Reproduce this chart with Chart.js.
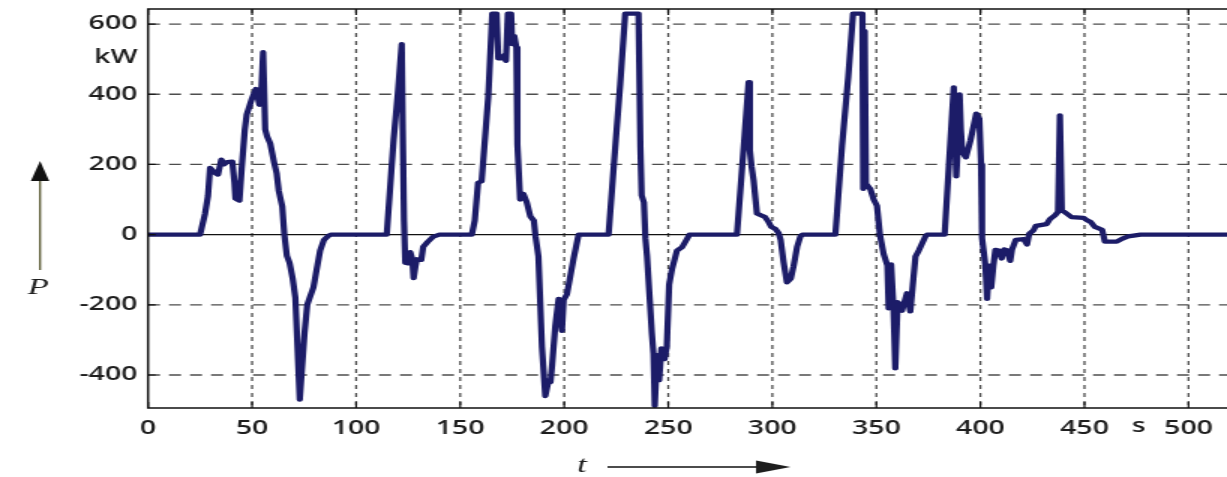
<!DOCTYPE html>
<html>
<head>
<meta charset="utf-8">
<script src="https://cdn.jsdelivr.net/npm/chart.js@4/dist/chart.umd.min.js"></script>
<style>
  html, body { margin: 0; padding: 0; background: #ffffff; overflow: hidden; }
  #wrap { width: 1227px; height: 477px; overflow: hidden; }
  /* the plot is drawn on a narrower canvas and widened 1.5x horizontally */
  #c { display: block; transform: scaleX(1.5); transform-origin: 0 0; }
</style>
</head>
<body>
<div id="wrap"><canvas id="c" width="818" height="477" style="width:818px;height:477px"></canvas></div>
<script>
// Traction power of each drive/brake run, pairs of [t in s, P in kW]
const run1 = [[0,0],[25,0],[27.4,60],[28.8,110],[29.8,190],[31,183],[32.2,176],[33.6,171],[35.2,214],[36.5,200],[38,207],[40.5,208],[41.5,150],[42,103],[43.9,97],[45,188],[46.5,300],[47.4,342],[49.7,384],[51.8,415],[52.8,390],[53.5,370],[54.3,392],[55.3,520],[56.3,300],[57.2,280],[58.7,260],[60.6,205],[61.8,175],[62.8,125],[64.5,80],[65.5,0],[66.7,-60],[68,-80],[69.5,-125],[70.8,-180],[72.9,-470],[75.2,-280],[76.5,-200],[77.9,-176],[79.5,-150],[81,-100],[82.7,-45],[84.5,-15],[86.7,-3],[88,0]];
const run2 = [[114.7,0],[118,270],[120,400],[121.9,543],[122.4,300],[123,40],[123.6,-80],[124.8,-82],[126,-50],[127,-70],[127.6,-124],[128.5,-90],[129.2,-70],[131.3,-72],[132.2,-35],[134.5,-20],[137,-6],[140,0]];
const run3 = [[155.6,0],[157,40],[158.6,148],[160.3,152],[163.5,393],[165.4,630],[167.5,630],[168.3,502],[170.5,502],[171.3,512],[172,495],[172.9,630],[174.5,630],[175,543],[176,566],[177,533],[177.5,257],[178.8,100],[180.4,116],[182,92],[183.7,52],[185.4,40],[186.2,-5],[187.6,-62],[189.3,-320],[190.9,-460],[192.5,-415],[193.4,-420],[194.2,-370],[195.7,-260],[197.3,-183],[198.9,-274],[199.7,-186],[201.3,-170],[204.5,-68],[206.9,0]];
const run4 = [[221.3,0],[224,210],[226.9,429],[229.3,630],[235.7,630],[236.6,250],[237.2,112],[238.3,92],[239,-10],[239.8,-62],[242.1,-280],[242.9,-340],[243.5,-488],[244.6,-343],[245.6,-415],[246.7,-324],[248.2,-355],[249.3,-318],[250.4,-143],[251.8,-98],[254.2,-45],[256.6,-36],[258.2,-20],[260.2,0]];
const run5 = [[283,0],[286,230],[288.6,435],[289.2,240],[290,195],[291,155],[292.6,60],[294.5,55],[296.5,50],[298,38],[299.5,22],[301.5,16],[303,5],[304,-15],[305.4,-78],[307,-136],[308.9,-125],[310.2,-90],[311.9,-35],[313.5,-5],[314.5,0]];
const run6 = [[330.3,0],[333.5,253],[336.5,450],[338.8,630],[343.3,630],[343.7,130],[344.4,580],[345,145],[347.1,130],[348.7,100],[350.3,82],[351.7,0],[353.5,-55],[355.3,-88],[355.9,-210],[357.1,-85],[358.2,-205],[359.1,-381],[360.2,-192],[362.3,-217],[364.7,-167],[366.3,-219],[368.8,-62],[370.4,-45],[373.6,-5],[374.4,0]];
const run7 = [[382.8,0],[385.5,260],[387.2,420],[388.4,166],[389.2,260],[390,400],[390.6,300],[391.3,236],[393,220],[395.2,268],[398,345],[399.5,330],[400.3,200],[400.8,-10],[402.4,-88],[403.2,-183],[404.2,-88],[405.2,-150],[406.2,-90],[407.2,-43],[408.8,-45],[410.2,-68],[411.4,-42],[413,-45],[414.3,-75],[415.2,-42],[417,-15],[420.8,-13],[422.4,-28],[423.4,2],[425.5,12],[426.6,25],[431.8,30],[433.4,44],[435.8,55],[437.3,65],[438.2,340],[439.1,70],[441.5,60],[443.8,50],[449.5,48],[451.5,40],[453,36],[455,22],[458.5,14],[459.8,-20],[465.5,-20],[468,-12],[471,-5],[477,0],[519,0]];

// Axis ticks
const timeTicks = [0, 50, 100, 150, 200, 250, 300, 350, 400, 450, 500];
const powerTicks = [-400, -200, 0, 200, 400, 600];
const timeRange = [0, 518.5];
const powerRange = [-494, 643];

const trace = [run1, run2, run3, run4, run5, run6, run7].flat().map(([t, p]) => ({ x: t, y: p }));

const ink = '#1e1e1e';
const tickFont = { family: '"Open Sans", "DejaVu Sans", sans-serif', size: 19, weight: '600' };

const framePlugin = {
  id: 'frame',
  beforeDatasetsDraw(chart) {
    const { ctx, chartArea: a, scales: { x, y } } = chart;
    ctx.save();
    ctx.strokeStyle = '#4d4d4d';
    ctx.lineWidth = 1.3;
    // vertical grid: short dashes
    ctx.setLineDash([4, 4]);
    for (const t of x.ticks) {
      if (t.value === 0) continue;
      const px = x.getPixelForValue(t.value);
      ctx.beginPath(); ctx.moveTo(px, a.top); ctx.lineTo(px, a.bottom); ctx.stroke();
    }
    // horizontal grid: long dashes
    ctx.setLineDash([8, 6]);
    for (const t of y.ticks) {
      if (t.value === 0) continue;
      const py = y.getPixelForValue(t.value);
      ctx.beginPath(); ctx.moveTo(a.left, py); ctx.lineTo(a.right, py); ctx.stroke();
    }
    // zero line
    ctx.setLineDash([]);
    ctx.strokeStyle = '#111111';
    ctx.lineWidth = 1.4;
    const y0 = y.getPixelForValue(0);
    ctx.beginPath(); ctx.moveTo(a.left, y0); ctx.lineTo(a.right, y0); ctx.stroke();
    ctx.restore();
  },
  afterDraw(chart) {
    const { ctx, chartArea: a, scales: { x, y } } = chart;
    ctx.save();
    // frame: top, left, bottom
    ctx.strokeStyle = '#111111';
    ctx.lineWidth = 1.5;
    ctx.beginPath();
    ctx.moveTo(a.right + 2, a.top); ctx.lineTo(a.left, a.top);
    ctx.lineTo(a.left, a.bottom); ctx.lineTo(a.right + 2, a.bottom);
    ctx.stroke();
    // inward tick marks
    ctx.lineWidth = 1.2;
    ctx.beginPath();
    for (const t of x.ticks) {
      const px = x.getPixelForValue(t.value);
      ctx.moveTo(px, a.bottom); ctx.lineTo(px, a.bottom - 6);
      ctx.moveTo(px, a.top); ctx.lineTo(px, a.top + 6);
    }
    for (const t of y.ticks) {
      const py = y.getPixelForValue(t.value);
      ctx.moveTo(a.left, py); ctx.lineTo(a.left + 5, py);
    }
    ctx.stroke();

    // unit labels
    ctx.fillStyle = ink;
    ctx.font = `${tickFont.weight} ${tickFont.size}px ${tickFont.family}`;
    ctx.textBaseline = 'middle';
    ctx.textAlign = 'right';
    ctx.fillText('kW', a.left - 7, 58);
    ctx.textAlign = 'center';
    ctx.fillText('s', x.getPixelForValue(476), 427);

    // P with upward arrow
    ctx.font = 'italic 23px "Liberation Serif", "DejaVu Serif", serif';
    ctx.fillText('P', 25.5, 288);
    ctx.strokeStyle = '#55552e';
    ctx.lineWidth = 1.3;
    ctx.beginPath(); ctx.moveTo(26.7, 270); ctx.lineTo(26.7, 178); ctx.stroke();
    ctx.fillStyle = '#111111';
    ctx.beginPath(); ctx.moveTo(26.7, 161); ctx.lineTo(20.6, 181); ctx.lineTo(32.8, 181); ctx.closePath(); ctx.fill();

    // t with rightward arrow
    ctx.fillStyle = ink;
    ctx.font = 'italic 23px "Liberation Serif", "DejaVu Serif", serif';
    ctx.fillText('t', 388, 466);
    ctx.strokeStyle = '#111111';
    ctx.lineWidth = 1.6;
    ctx.beginPath(); ctx.moveTo(405, 467); ctx.lineTo(506, 467); ctx.stroke();
    ctx.beginPath(); ctx.moveTo(527, 467); ctx.lineTo(504, 460.5); ctx.lineTo(504, 473.5); ctx.closePath(); ctx.fill();
    ctx.restore();
  }
};

new Chart(document.getElementById('c').getContext('2d'), {
  type: 'line',
  data: {
    datasets: [{
      data: trace,
      borderColor: '#1c1c68',
      borderWidth: 4.2,
      pointRadius: 0,
      tension: 0,
      fill: false,
      borderJoinStyle: 'round',
      borderCapStyle: 'round'
    }]
  },
  options: {
    responsive: false,
    animation: false,
    devicePixelRatio: 1,
    layout: { padding: { top: 9, left: 0, right: 0, bottom: 0 } },
    plugins: { legend: { display: false }, tooltip: { enabled: false } },
    scales: {
      x: {
        type: 'linear',
        min: timeRange[0],
        max: timeRange[1],
        afterBuildTicks: s => { s.ticks = timeTicks.map(v => ({ value: v })); },
        afterFit: s => { s.height = 69; s.paddingLeft = 0; s.paddingRight = 0; },
        grid: { display: false, drawTicks: false },
        border: { display: false },
        ticks: { padding: 9, color: ink, font: tickFont, maxRotation: 0, autoSkip: false }
      },
      y: {
        type: 'linear',
        min: powerRange[0],
        max: powerRange[1],
        afterBuildTicks: s => { s.ticks = powerTicks.map(v => ({ value: v })); },
        afterFit: s => { s.width = 98.7; s.paddingTop = 0; s.paddingBottom = 0; },
        grid: { display: false, drawTicks: false },
        border: { display: false },
        ticks: { padding: 7, color: ink, font: tickFont }
      }
    }
  },
  plugins: [framePlugin]
});
</script>
</body>
</html>
